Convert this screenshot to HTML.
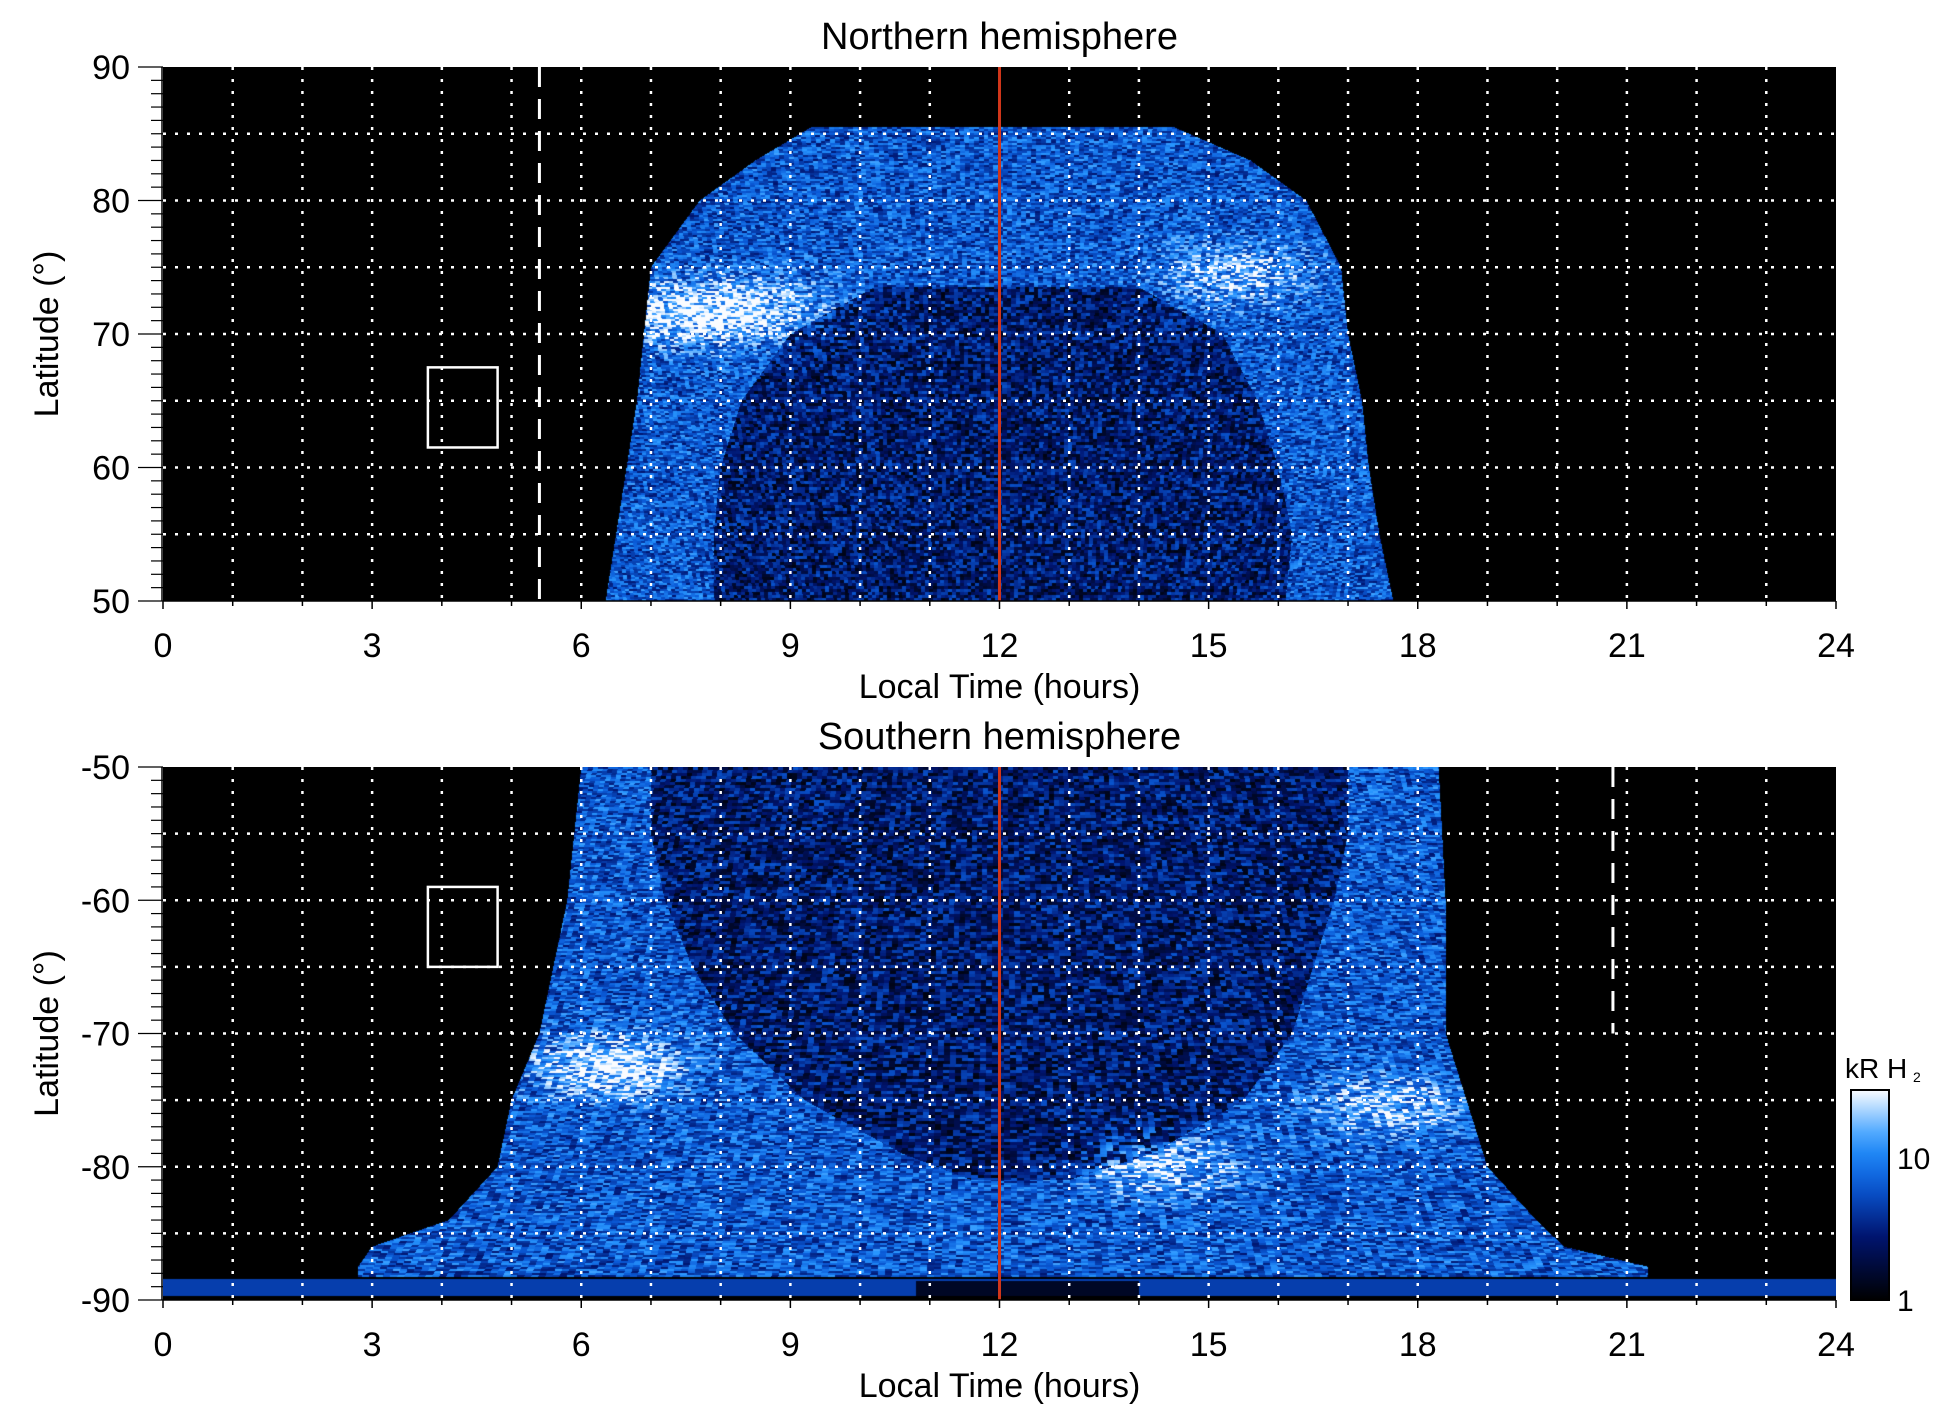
<!DOCTYPE html>
<html><head><meta charset="utf-8">
<style>
html,body{margin:0;padding:0;background:#fff;}
#wrap{position:relative;width:1950px;height:1423px;font-family:"Liberation Sans",sans-serif;}
canvas{position:absolute;}
svg{position:absolute;left:0;top:0;}
text{font-family:"Liberation Sans",sans-serif;fill:#000;}
</style></head>
<body>
<div id="wrap">
<canvas id="cN"></canvas>
<canvas id="cS"></canvas>
<svg id="ov" width="1950" height="1423"></svg>
</div>
<script>
// ---- data ----
const nEnvLat   = [50, 55, 60, 65, 70, 75, 80, 83, 85.5];
const nEnvLeft  = [6.35, 6.5, 6.65, 6.8, 6.9, 7.0, 7.7, 8.5, 9.3];
const nEnvRight = [17.65, 17.45, 17.3, 17.2, 17.0, 16.9, 16.4, 15.6, 14.5];
const nCoreLat   = [50, 55, 60, 65, 70, 73.5];
const nCoreLeft  = [7.9, 7.9, 8.0, 8.3, 9.0, 10.2];
const nCoreRight = [16.1, 16.2, 16.0, 15.7, 15.2, 14.0];
const nArcH   = [7.6, 15.4, 8.6];
const nArcLat = [71.5, 74.5, 72.0];
const nArcAmp = [0.55, 0.35, 0.3];

const sEnvLat   = [50, 55, 60, 65, 70, 75, 80, 84, 86, 87.5, 88.3];
const sEnvLeft  = [6.0, 5.9, 5.8, 5.6, 5.4, 5.0, 4.8, 4.1, 3.0, 2.8, 2.8];
const sEnvRight = [18.3, 18.35, 18.4, 18.4, 18.4, 18.7, 19.0, 19.7, 20.1, 21.3, 21.3];
const sCoreLat   = [50, 55, 60, 65, 70, 75, 79, 81];
const sCoreLeft  = [7.0, 7.0, 7.2, 7.6, 8.2, 9.2, 10.6, 11.6];
const sCoreRight = [17.0, 17.0, 16.8, 16.5, 16.2, 15.5, 14.2, 13.0];
const sArcH   = [6.4, 14.3, 17.6];
const sArcLat = [72.5, 80.0, 75.5];
const sArcAmp = [0.55, 0.4, 0.35];

const xTicks = [0, 3, 6, 9, 12, 15, 18, 21, 24];
const nYTicks = [50, 60, 70, 80, 90];
const sYTicks = [-90, -80, -70, -60, -50];
const cbTicks = [1, 10];
const noonLT = 12;
const nDashLT = 5.4;
const sDashLT = 20.8;
const nBox = [3.8, 4.8, 61.5, 67.5];
const sBox = [3.8, 4.8, -65, -59];

// ---- layout ----
const L = 163, R = 1836;
const N = {T: 67, B: 601, lo: 50, hi: 90};
const S = {T: 767, B: 1300, lo: -90, hi: -50};
function xs(h) { return L + (R - L) * h / 24; }
function ys(P, v) { return P.B - (P.B - P.T) * (v - P.lo) / (P.hi - P.lo); }

function interp(xa, ya, x) {
  if (x <= xa[0]) return ya[0];
  for (let i = 1; i < xa.length; i++) if (x <= xa[i]) {
    const t = (x - xa[i-1]) / (xa[i] - xa[i-1]); return ya[i-1] + t * (ya[i] - ya[i-1]);
  }
  return ya[ya.length - 1];
}
function cmap(v) {
  v = Math.max(0, Math.min(1, v));
  const st = [[0,0,0,0],[0.3,0,20,110],[0.55,10,90,215],[0.75,40,150,255],[1,250,252,255]];
  for (let i = 1; i < st.length; i++) if (v <= st[i][0]) {
    const t = (v - st[i-1][0]) / (st[i][0] - st[i-1][0]);
    return [0,1,2].map(k => st[i-1][k+1] + t * (st[i][k+1] - st[i-1][k+1]));
  }
  return [250,252,255];
}
// deterministic texture hash (decoration only)
function tex(a, b) {
  let n = (a * 374761393 + b * 668265263) | 0;
  n = (n ^ (n >>> 13)) * 1274126177 | 0;
  return ((n ^ (n >>> 16)) >>> 0) / 4294967295;
}
function render(id, P, env, core, arcs, south) {
  const c = document.getElementById(id);
  const W = R - L, H = P.B - P.T;
  c.width = W; c.height = H; c.style.left = L + 'px'; c.style.top = P.T + 'px';
  const ctx = c.getContext('2d'); const img = ctx.createImageData(W, H); const d = img.data;
  for (let py = 0; py < H; py++) {
    const lat = P.hi - (P.hi - P.lo) * (py + 0.5) / H; const a = Math.abs(lat);
    const el = interp(env[0], env[1], a), er = interp(env[0], env[2], a);
    const coreTop = core[0][core[0].length - 1];
    const cl = interp(core[0], core[1], a), cr = interp(core[0], core[2], a);
    for (let px = 0; px < W; px++) {
      const h = 24 * (px + 0.5) / W; let v = 0;
      const inEnv = (!south || a <= 88.3) && a <= env[0][env[0].length-1] && h >= el && h <= er;
      if (inEnv) {
        let inCore = (a <= coreTop && h > cl && h < cr);
        v = inCore ? 0.33 : 0.6;
        for (let k = 0; k < arcs[0].length; k++) {
          const dh = (h - arcs[0][k]) / 1.0, dl = (a - arcs[1][k]) / 2.2;
          v += arcs[2][k] * Math.exp(-(dh*dh + dl*dl));
        }
        const slant = Math.round((h - 12) * py * 0.04 * (south ? -1 : 1));
        const t = tex(Math.floor((px + slant) / 5), Math.floor(py / (inCore ? 3 : 2)));
        v *= inCore ? (0.15 + 1.45 * t) : (0.5 + 0.8 * t);
      }
      if (south && a > 88.4 && a < 89.7) v = Math.max(v, (h > 10.8 && h < 14 && a > 88.6) ? 0.1 : 0.45);
      const col = cmap(v); const i = 4 * (py * W + px);
      d[i] = col[0]; d[i+1] = col[1]; d[i+2] = col[2]; d[i+3] = 255;
    }
  }
  ctx.putImageData(img, 0, 0);
}
render('cN', N, [nEnvLat, nEnvLeft, nEnvRight], [nCoreLat, nCoreLeft, nCoreRight], [nArcH, nArcLat, nArcAmp], false);
render('cS', S, [sEnvLat, sEnvLeft, sEnvRight], [sCoreLat, sCoreLeft, sCoreRight], [sArcH, sArcLat, sArcAmp], true);

// ---- overlay ----
const NS = 'http://www.w3.org/2000/svg'; const ov = document.getElementById('ov');
function mk(tag, at, txt) {
  const e = document.createElementNS(NS, tag);
  for (const k in at) e.setAttribute(k, at[k]);
  if (txt !== undefined) e.textContent = txt;
  ov.appendChild(e); return e;
}
function panel(P, yTicks, title, dashLT, dashFull, box, pname) {
  let e;
  for (let h = 1; h < 24; h++) {
    e = mk('line', {x1: xs(h), x2: xs(h), y1: P.T, y2: P.B, stroke: '#fff', 'stroke-width': 2.5, 'stroke-dasharray': '3 9'});
    
    
  }
  for (let v = P.lo + 5; v < P.hi; v += 5) {
    e = mk('line', {x1: L, x2: R, y1: ys(P, v), y2: ys(P, v), stroke: '#fff', 'stroke-width': 2.5, 'stroke-dasharray': '3 9'});
    
    
  }
  e = mk('line', {x1: xs(dashLT), x2: xs(dashLT), y1: P.T, y2: dashFull ? P.B : ys(P, -70), stroke: '#fff', 'stroke-width': 3, 'stroke-dasharray': '20 12'});
  
  
  e = mk('rect', {x: xs(box[0]), y: ys(P, box[3]), width: xs(box[1]) - xs(box[0]), height: ys(P, box[2]) - ys(P, box[3]), fill: 'none', stroke: '#fff', 'stroke-width': 2.5});
  
  
  e = mk('line', {x1: xs(noonLT), x2: xs(noonLT), y1: P.T, y2: P.B, stroke: '#d0361a', 'stroke-width': 3});
  
  
  e = mk('line', {x1: L, x2: R, y1: P.B, y2: P.B, stroke: '#000', 'stroke-width': 1.5});
  
  
  e = mk('line', {x1: L - 1, x2: L - 1, y1: P.T, y2: P.B, stroke: '#000', 'stroke-width': 1.5});
  
  
  for (let h = 0; h <= 24; h++) {
    const big = h % 3 === 0;
    e = mk('line', {x1: xs(h), x2: xs(h), y1: P.B, y2: P.B + (big ? 8 : 5), stroke: '#000', 'stroke-width': 1.5});
    
    
  }
  for (let v = P.lo; v <= P.hi; v++) {
    const big = v % 10 === 0;
    e = mk('line', {x1: L - (big ? 25 : 12), x2: L, y1: ys(P, v), y2: ys(P, v), stroke: '#000', 'stroke-width': 1.2});
    
    
  }
  for (const t of xTicks) {
    e = mk('text', {x: xs(t), y: P.B + 56, 'font-size': 34, 'text-anchor': 'middle'}, String(t));
    
    
  }
  for (const t of yTicks) {
    e = mk('text', {x: 130, y: ys(P, t) + 12, 'font-size': 34, 'text-anchor': 'end'}, String(t));
    
    
  }
  e = mk('text', {x: (L + R) / 2, y: P.B + 97, 'font-size': 34, 'text-anchor': 'middle'}, 'Local Time (hours)');
  
  
  const my = (P.T + P.B) / 2;
  e = mk('text', {x: 58, y: my, 'font-size': 34, 'text-anchor': 'middle', transform: 'rotate(-90 58 ' + my + ')'}, 'Latitude (°)');
  
  
  e = mk('text', {x: (L + R) / 2, y: P.T - 18, 'font-size': 38, 'text-anchor': 'middle'}, title);
  
  
}
panel(N, nYTicks, 'Northern hemisphere', nDashLT, true, nBox, 'north');
panel(S, sYTicks, 'Southern hemisphere', sDashLT, false, sBox, 'south');

// colorbar
const CB = {x: 1851, w: 38, T: 1090, B: 1300, lmin: 0, lmax: Math.log10(30)};
function cby(v) { return CB.B - (CB.B - CB.T) * (Math.log10(v) - CB.lmin) / (CB.lmax - CB.lmin); }
const defs = mk('defs', {});
const lg = document.createElementNS(NS, 'linearGradient');
lg.setAttribute('id', 'cbg'); lg.setAttribute('x1', 0); lg.setAttribute('x2', 0); lg.setAttribute('y1', 1); lg.setAttribute('y2', 0);
for (let i = 0; i <= 10; i++) {
  const c = cmap(i / 10); const s = document.createElementNS(NS, 'stop');
  s.setAttribute('offset', i / 10); s.setAttribute('stop-color', 'rgb(' + c.map(Math.round).join(',') + ')');
  lg.appendChild(s);
}
defs.appendChild(lg);
let e = mk('rect', {x: CB.x, y: CB.T, width: CB.w, height: CB.B - CB.T, fill: 'url(#cbg)', stroke: '#000', 'stroke-width': 2});


for (const t of cbTicks) {
  e = mk('text', {x: CB.x + CB.w + 8, y: cby(t) + 11, 'font-size': 30}, String(t));
  
  
}
e = mk('text', {x: 1845, y: 1078, 'font-size': 28}, 'kR H');


e = mk('text', {x: 1913, y: 1082, 'font-size': 14}, '2');


</script>
</body></html>
